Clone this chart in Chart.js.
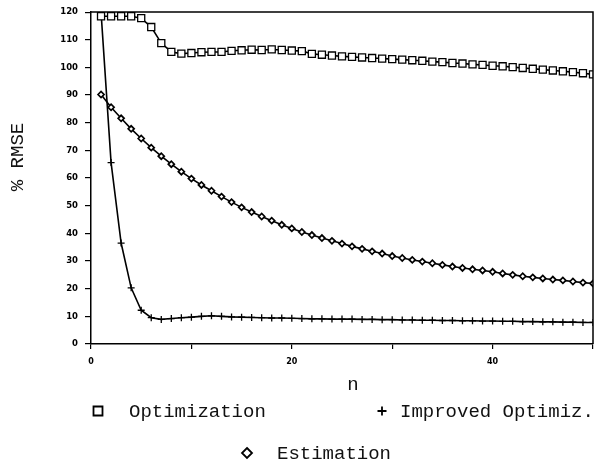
<!DOCTYPE html>
<html><head><meta charset="utf-8">
<script src="https://cdn.jsdelivr.net/npm/chart.js@4/dist/chart.umd.min.js"></script>
<style>html,body{margin:0;padding:0;background:#fff}#wrap{width:601px;height:464px}</style>
</head><body><div id="wrap"><canvas id="c" width="601" height="464"></canvas></div>
<script>
const nValues = [1,2,3,4,5,6,7,8,9,10,11,12,13,14,15,16,17,18,19,20,21,22,23,24,25,26,27,28,29,30,31,32,33,34,35,36,37,38,39,40,41,42,43,44,45,46,47,48,49,50];
const optimization = [118.5,118.5,118.5,118.5,117.8,114.6,108.8,105.6,105.0,105.2,105.5,105.6,105.6,106.0,106.2,106.4,106.3,106.5,106.3,106.1,105.9,104.9,104.6,104.3,104.0,103.8,103.6,103.4,103.2,103.0,102.8,102.6,102.4,102.1,101.9,101.6,101.4,101.1,100.9,100.6,100.4,100.1,99.8,99.5,99.2,98.9,98.6,98.3,97.9,97.5];
const improved = [120,65.6,36.5,20.3,12.2,9.5,8.9,9.2,9.5,9.7,10.0,10.2,10.0,9.8,9.7,9.6,9.5,9.4,9.4,9.3,9.2,9.1,9.1,9.0,9.0,9.0,8.9,8.9,8.8,8.8,8.7,8.7,8.6,8.6,8.5,8.5,8.4,8.4,8.3,8.3,8.2,8.2,8.1,8.1,8.0,8.0,7.9,7.9,7.8,7.8];
const estimation = [90.2,85.6,81.6,77.8,74.3,71.0,67.9,65.0,62.3,59.8,57.5,55.4,53.3,51.3,49.4,47.7,46.1,44.6,43.1,41.8,40.5,39.4,38.3,37.3,36.3,35.3,34.4,33.5,32.7,31.8,31.1,30.4,29.8,29.2,28.6,28.0,27.5,27.0,26.6,26.1,25.5,25.0,24.5,24.1,23.7,23.3,23.0,22.6,22.2,21.9];
const seriesNames = ['Optimization', 'Improved Optimiz.', 'Estimation'];
const xTickLabels = {0: '0', 20: '20', 40: '40'};
const yTitle = '% RMSE';
const xTitle = 'n';

const MONO = '"Liberation Mono", "DejaVu Sans Mono", monospace';
const YTICKFONT = {family: '"DejaVu Sans", sans-serif', size: 8.5, weight: 'bold'};
const XTICKFONT = {family: '"DejaVu Sans", sans-serif', size: 8, weight: 'bold'};

function pts(vals) { return nValues.map((n, i) => ({x: n, y: vals[i]})); }

const decor = {
  id: 'decor',
  afterDraw(chart) {
    const ctx = chart.ctx, a = chart.chartArea;
    ctx.save();
    ctx.strokeStyle = '#000';
    ctx.lineWidth = 1.5;
    ctx.beginPath();
    ctx.moveTo(a.left, a.top); ctx.lineTo(a.right, a.top); ctx.lineTo(a.right, a.bottom);
    ctx.stroke();
    ctx.fillStyle = '#111';
    ctx.font = '19px ' + MONO;
    ctx.textBaseline = 'middle';
    ctx.save();
    ctx.translate(18, 157);
    ctx.rotate(-Math.PI / 2);
    ctx.textAlign = 'center';
    ctx.fillText(yTitle, 0, 0);
    ctx.restore();
    ctx.textAlign = 'center';
    ctx.fillText(xTitle, 353, 385);
    ctx.textAlign = 'left';
    ctx.lineWidth = 1.8;
    const items = [
      {name: seriesNames[0], mx: 98, tx: 129, y: 411, m: 'sq'},
      {name: seriesNames[1], mx: 382, tx: 400, y: 411, m: 'plus'},
      {name: seriesNames[2], mx: 247, tx: 277, y: 453, m: 'dia'}
    ];
    items.forEach(it => {
      ctx.beginPath();
      if (it.m === 'sq') ctx.rect(it.mx - 4.5, it.y - 4.5, 9, 9);
      else if (it.m === 'plus') { ctx.moveTo(it.mx - 4.5, it.y); ctx.lineTo(it.mx + 4.5, it.y); ctx.moveTo(it.mx, it.y - 4.5); ctx.lineTo(it.mx, it.y + 4.5); }
      else { ctx.moveTo(it.mx, it.y - 5); ctx.lineTo(it.mx + 5, it.y); ctx.lineTo(it.mx, it.y + 5); ctx.lineTo(it.mx - 5, it.y); ctx.closePath(); }
      ctx.stroke();
      ctx.fillText(it.name, it.tx, it.y + 1);
    });
    ctx.restore();
  }
};

new Chart(document.getElementById('c'), {
  type: 'line',
  data: {
    datasets: [
      {label: seriesNames[0], data: pts(optimization), borderColor: '#000', borderWidth: 1.6,
       pointStyle: 'rect', pointRadius: 5, pointBorderWidth: 1.3, pointBorderColor: '#000', pointBackgroundColor: '#fff'},
      {label: seriesNames[1], data: pts(improved), borderColor: '#000', borderWidth: 1.6,
       pointStyle: 'cross', pointRadius: 3.5, pointBorderWidth: 1.3, pointBorderColor: '#000', pointBackgroundColor: '#fff'},
      {label: seriesNames[2], data: pts(estimation), borderColor: '#000', borderWidth: 1.6,
       pointStyle: 'rectRot', pointRadius: 3, pointBorderWidth: 1.7, pointBorderColor: '#000', pointBackgroundColor: '#fff'}
    ]
  },
  options: {
    responsive: false,
    animation: false,
    devicePixelRatio: 1,
    layout: {padding: {left: 0, right: 5, top: 10, bottom: 90}},
    plugins: {legend: {display: false}, tooltip: {enabled: false}},
    elements: {line: {tension: 0}},
    scales: {
      x: {
        type: 'linear', min: 0, max: 50,
        afterFit(s) { s.height = 30; },
        border: {display: true, color: '#000', width: 1.5},
        grid: {drawOnChartArea: false, drawTicks: true, tickLength: 5, color: '#000', lineWidth: 1.2},
        ticks: {stepSize: 10, autoSkip: false, maxRotation: 0, padding: 8, color: '#000', font: XTICKFONT,
          callback: v => (xTickLabels[v] !== undefined ? xTickLabels[v] : '')}
      },
      y: {
        min: 0, max: 120,
        afterFit(s) { s.width = 91; },
        border: {display: true, color: '#000', width: 1.5},
        grid: {drawOnChartArea: false, drawTicks: true, tickLength: 6, color: '#000', lineWidth: 1.2},
        ticks: {stepSize: 10, autoSkip: false, padding: 7, color: '#000', font: YTICKFONT}
      }
    }
  },
  plugins: [decor]
});
</script></body></html>
